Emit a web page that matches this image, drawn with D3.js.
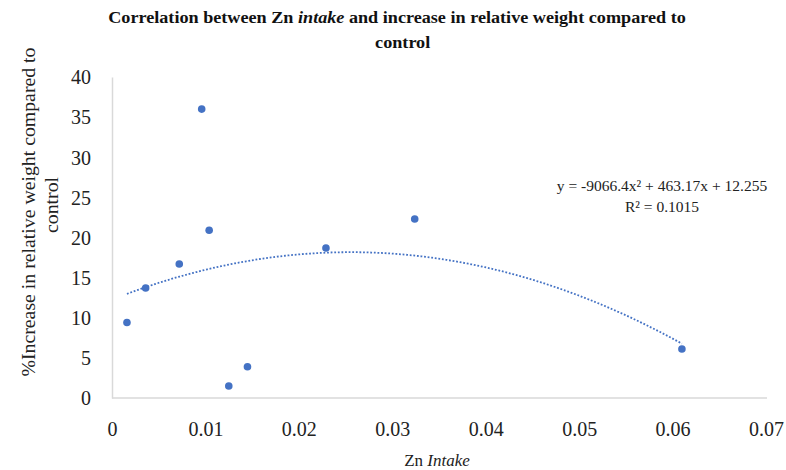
<!DOCTYPE html>
<html>
<head>
<meta charset="utf-8">
<script src="https://cdn.jsdelivr.net/npm/d3@7"></script>
<style>
  html, body { margin: 0; padding: 0; background: #fff; }
  svg { display: block; }
  svg text { font-family: "Liberation Serif", "DejaVu Serif", serif; }
</style>
</head>
<body>
<svg id="chart" width="786" height="470"></svg>
<script>
// ---- data ----
const znIntake = [0.0016, 0.0036, 0.0072, 0.0096, 0.0104, 0.0125, 0.0145, 0.0229, 0.0324, 0.0610];
const weightIncrease = [9.4, 13.7, 16.7, 36.0, 20.9, 1.5, 3.9, 18.7, 22.3, 6.1];
const xTicks = [0, 0.01, 0.02, 0.03, 0.04, 0.05, 0.06, 0.07];
const yTicks = [0, 5, 10, 15, 20, 25, 30, 35, 40];
// polynomial trendline coefficients as shown on chart (a x^2 + b x + c)
const trendCoef = [-9066.4, 463.17, 12.255];
const trendLabel = ["y = -9066.4x\u00B2 + 463.17x + 12.255", "R\u00B2 = 0.1015"];

const FONT = "'Liberation Serif', 'DejaVu Serif', serif";
const svg = d3.select("#chart");
const x = d3.scaleLinear().domain([0, 0.07]).range([112, 766]);
const y = d3.scaleLinear().domain([0, 40]).range([398, 77]);
const blue = "#4472c4";
const axisColor = "#d9d9d9";

// title (horizontally widened like the reference)
const title = svg.append("text").attr("text-anchor", "middle")
  .attr("transform", "translate(397,0) scale(1.135,1)")
  .attr("font-family", FONT)
  .attr("font-size", 16).attr("font-weight", "bold").attr("fill", "#111");
const t1 = title.append("tspan").attr("x", 0).attr("y", 23);
t1.append("tspan").text("Correlation between Zn ");
t1.append("tspan").attr("font-style", "italic").text("intake");
t1.append("tspan").text(" and increase in relative weight compared to");
title.append("tspan").attr("x", 5).attr("y", 48).text("control");

// axes
const xAxis = d3.axisBottom(x).tickValues(xTicks).tickSize(0).tickPadding(0)
  .tickFormat(d => d === 0 ? "0" : d3.format(".2f")(d));
const gx = svg.append("g").attr("transform", "translate(0,398)").call(xAxis)
  .attr("font-family", FONT);
gx.select(".domain").attr("stroke", axisColor).attr("stroke-width", 1.5)
  .attr("d", `M${x(0)},0H767`);
gx.selectAll("text").attr("font-size", 20).attr("font-family", FONT)
  .attr("fill", "#222").attr("y", 38).attr("dy", 0);

const yAxis = d3.axisLeft(y).tickValues(yTicks).tickSize(0).tickPadding(0);
const gy = svg.append("g").attr("transform", `translate(${x(0)},0)`).call(yAxis)
  .attr("font-family", FONT);
gy.select(".domain").attr("stroke", axisColor).attr("stroke-width", 1.5);
gy.selectAll("text").attr("font-size", 20).attr("font-family", FONT)
  .attr("fill", "#222").attr("x", -21).attr("dy", "0.34em");

// axis titles
const xt = svg.append("text").attr("x", 437).attr("y", 466).attr("text-anchor", "middle")
  .attr("font-family", FONT).attr("font-size", 17).attr("fill", "#222");
xt.append("tspan").text("Zn ");
xt.append("tspan").attr("font-style", "italic").text("Intake");

const yt = svg.append("text").attr("transform", "rotate(-90)").attr("text-anchor", "middle")
  .attr("font-family", FONT).attr("font-size", 19.8).attr("fill", "#222");
yt.append("tspan").attr("x", -212).attr("y", 35).text("%Increase in relative weight compared to");
yt.append("tspan").attr("x", -205).attr("y", 58).text("control");

// trendline
const xs = d3.range(0, 201).map(i => znIntake[0] + (znIntake[znIntake.length - 1] - znIntake[0]) * i / 200);
const line = d3.line().x(d => x(d)).y(d => y(trendCoef[0] * d * d + trendCoef[1] * d + trendCoef[2]));
svg.append("path").datum(xs).attr("d", line).attr("fill", "none")
  .attr("stroke", blue).attr("stroke-width", 1.8).attr("stroke-dasharray", "1.8,1.8");

// points
svg.append("g").selectAll("circle").data(znIntake).join("circle")
  .attr("cx", d => x(d)).attr("cy", (d, i) => y(weightIncrease[i]))
  .attr("r", 3.8).attr("fill", blue);

// equation
const eq = svg.append("text").attr("text-anchor", "middle").attr("font-family", FONT)
  .attr("font-size", 15.5).attr("fill", "#222");
eq.append("tspan").attr("x", 662).attr("y", 191).text(trendLabel[0]);
eq.append("tspan").attr("x", 662).attr("y", 212).text(trendLabel[1]);
</script>
</body>
</html>
